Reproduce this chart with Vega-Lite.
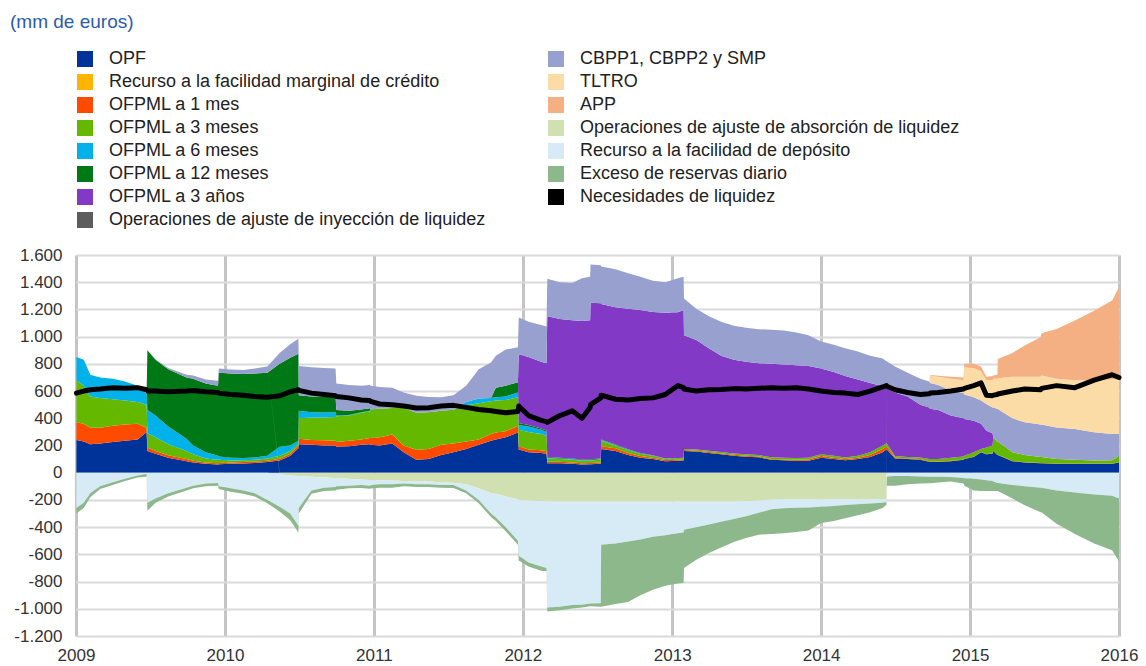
{
"$schema": "https://vega.github.io/schema/vega-lite/v6.json",
"width": 1043, "height": 381,
"autosize": {"type": "none"},
"padding": {"left": 76, "top": 255, "right": 27, "bottom": 30},
"background": "white",
"config": {
 "locale": {"number": {"decimal": ",", "thousands": ".", "grouping": [3], "currency": ["", " €"], "minus": "-"}},
 "view": {"stroke": null},
 "font": "Liberation Sans",
 "axisY": {"values": [-1200, -1000, -800, -600, -400, -200, 0, 200, 400, 600, 800, 1000, 1200, 1400, 1600], "format": ",d", "title": null, "grid": true, "gridColor": "#dadada", "gridWidth": 2, "ticks": false, "domain": false, "labelFontSize": 17, "labelColor": "#333333", "labelFont": "Liberation Sans", "labelPadding": 14, "labelOverlap": false}
},
"title": {"text": "(mm de euros)", "anchor": "start", "frame": "group", "fontSize": 19, "fontWeight": "normal", "color": "#2b5cab", "font": "Liberation Sans", "dx": -66, "offset": 0, "dy": -18},
"datasets": {
 "meta": [
  {"k":"opf","name":"OPF","o":1},
  {"k":"m1","name":"OFPML a 1 mes","o":3},
  {"k":"m3","name":"OFPML a 3 meses","o":4},
  {"k":"m6","name":"OFPML a 6 meses","o":5},
  {"k":"m12","name":"OFPML a 12 meses","o":6},
  {"k":"y3","name":"OFPML a 3 años","o":7},
  {"k":"cb","name":"CBPP1, CBPP2 y SMP","o":9},
  {"k":"tl","name":"TLTRO","o":10},
  {"k":"app","name":"APP","o":11},
  {"k":"fta","name":"Operaciones de ajuste de absorción de liquidez","o":12},
  {"k":"dep","name":"Recurso a la facilidad de depósito","o":13},
  {"k":"exc","name":"Exceso de reservas diario","o":14}
 ],
 "main": [
  {"d":"2009-01-02","opf":240,"m1":130,"m3":310,"m6":170,"m12":0,"y3":0,"cb":0,"tl":0,"app":0,"fta":0,"dep":-260,"exc":-40,"need":585},
  {"d":"2009-01-20","opf":230,"m1":130,"m3":280,"m6":190,"m12":0,"y3":0,"cb":0,"tl":0,"app":0,"fta":0,"dep":-220,"exc":-40,"need":600},
  {"d":"2009-02-05","opf":210,"m1":120,"m3":230,"m6":160,"m12":0,"y3":0,"cb":0,"tl":0,"app":0,"fta":0,"dep":-150,"exc":-30,"need":610},
  {"d":"2009-03-01","opf":215,"m1":115,"m3":220,"m6":150,"m12":0,"y3":0,"cb":0,"tl":0,"app":0,"fta":0,"dep":-100,"exc":-20,"need":615},
  {"d":"2009-04-01","opf":225,"m1":120,"m3":195,"m6":150,"m12":0,"y3":0,"cb":0,"tl":0,"app":0,"fta":0,"dep":-70,"exc":-20,"need":625},
  {"d":"2009-05-01","opf":235,"m1":120,"m3":175,"m6":140,"m12":0,"y3":0,"cb":0,"tl":0,"app":0,"fta":0,"dep":-45,"exc":-15,"need":620},
  {"d":"2009-06-01","opf":245,"m1":115,"m3":160,"m6":120,"m12":0,"y3":0,"cb":0,"tl":0,"app":0,"fta":0,"dep":-20,"exc":-15,"need":625},
  {"d":"2009-06-23","opf":300,"m1":30,"m3":170,"m6":80,"m12":0,"y3":0,"cb":0,"tl":0,"app":0,"fta":0,"dep":-10,"exc":-20,"need":610},
  {"d":"2009-06-25","opf":160,"m1":25,"m3":105,"m6":170,"m12":440,"y3":0,"cb":0,"tl":0,"app":0,"fta":0,"dep":-220,"exc":-60,"need":600},
  {"d":"2009-07-15","opf":140,"m1":20,"m3":100,"m6":160,"m12":410,"y3":0,"cb":2,"tl":0,"app":0,"fta":0,"dep":-190,"exc":-30,"need":600},
  {"d":"2009-08-15","opf":110,"m1":18,"m3":82,"m6":130,"m12":420,"y3":0,"cb":10,"tl":0,"app":0,"fta":0,"dep":-150,"exc":-25,"need":595},
  {"d":"2009-09-29","opf":85,"m1":15,"m3":60,"m6":90,"m12":450,"y3":0,"cb":20,"tl":0,"app":0,"fta":0,"dep":-110,"exc":-20,"need":600},
  {"d":"2009-10-15","opf":75,"m1":13,"m3":47,"m6":65,"m12":490,"y3":0,"cb":25,"tl":0,"app":0,"fta":0,"dep":-95,"exc":-20,"need":605},
  {"d":"2009-11-15","opf":65,"m1":10,"m3":30,"m6":45,"m12":505,"y3":0,"cb":30,"tl":0,"app":0,"fta":0,"dep":-80,"exc":-20,"need":595},
  {"d":"2009-12-15","opf":60,"m1":10,"m3":25,"m6":30,"m12":515,"y3":0,"cb":35,"tl":0,"app":0,"fta":0,"dep":-75,"exc":-20,"need":590},
  {"d":"2009-12-17","opf":62,"m1":10,"m3":23,"m6":25,"m12":615,"y3":0,"cb":30,"tl":0,"app":0,"fta":0,"dep":-100,"exc":-20,"need":585},
  {"d":"2010-01-15","opf":65,"m1":10,"m3":15,"m6":20,"m12":620,"y3":0,"cb":28,"tl":0,"app":0,"fta":0,"dep":-115,"exc":-25,"need":575},
  {"d":"2010-02-15","opf":68,"m1":10,"m3":14,"m6":16,"m12":617,"y3":0,"cb":30,"tl":0,"app":0,"fta":0,"dep":-130,"exc":-25,"need":570},
  {"d":"2010-03-15","opf":72,"m1":10,"m3":14,"m6":16,"m12":618,"y3":0,"cb":35,"tl":0,"app":0,"fta":0,"dep":-150,"exc":-25,"need":560},
  {"d":"2010-04-15","opf":78,"m1":10,"m3":17,"m6":20,"m12":610,"y3":0,"cb":45,"tl":0,"app":0,"fta":0,"dep":-200,"exc":-25,"need":555},
  {"d":"2010-05-15","opf":90,"m1":12,"m3":23,"m6":65,"m12":610,"y3":0,"cb":80,"tl":0,"app":0,"fta":-10,"dep":-240,"exc":-35,"need":565},
  {"d":"2010-06-10","opf":125,"m1":15,"m3":20,"m6":40,"m12":645,"y3":0,"cb":100,"tl":0,"app":0,"fta":-20,"dep":-280,"exc":-50,"need":595},
  {"d":"2010-06-30","opf":180,"m1":20,"m3":15,"m6":20,"m12":640,"y3":0,"cb":110,"tl":0,"app":0,"fta":-25,"dep":-365,"exc":-50,"need":610},
  {"d":"2010-07-01","opf":210,"m1":40,"m3":150,"m6":55,"m12":115,"y3":0,"cb":215,"tl":0,"app":0,"fta":-25,"dep":-235,"exc":-40,"need":605},
  {"d":"2010-08-01","opf":205,"m1":35,"m3":165,"m6":40,"m12":115,"y3":0,"cb":215,"tl":0,"app":0,"fta":-30,"dep":-100,"exc":-25,"need":585},
  {"d":"2010-09-01","opf":200,"m1":38,"m3":167,"m6":37,"m12":118,"y3":0,"cb":210,"tl":0,"app":0,"fta":-35,"dep":-75,"exc":-25,"need":575},
  {"d":"2010-09-29","opf":200,"m1":35,"m3":175,"m6":35,"m12":120,"y3":0,"cb":200,"tl":0,"app":0,"fta":-38,"dep":-67,"exc":-25,"need":565},
  {"d":"2010-10-01","opf":190,"m1":35,"m3":190,"m6":5,"m12":40,"y3":0,"cb":195,"tl":0,"app":0,"fta":-40,"dep":-60,"exc":-25,"need":560},
  {"d":"2010-11-01","opf":195,"m1":40,"m3":185,"m6":5,"m12":30,"y3":0,"cb":190,"tl":0,"app":0,"fta":-45,"dep":-50,"exc":-20,"need":550},
  {"d":"2010-12-01","opf":205,"m1":40,"m3":195,"m6":5,"m12":20,"y3":0,"cb":175,"tl":0,"app":0,"fta":-50,"dep":-40,"exc":-22,"need":535},
  {"d":"2010-12-22","opf":210,"m1":45,"m3":195,"m6":5,"m12":18,"y3":0,"cb":172,"tl":0,"app":0,"fta":-53,"dep":-42,"exc":-23,"need":530},
  {"d":"2010-12-24","opf":205,"m1":50,"m3":210,"m6":3,"m12":0,"y3":0,"cb":172,"tl":0,"app":0,"fta":-53,"dep":-40,"exc":-23,"need":525},
  {"d":"2011-01-15","opf":200,"m1":60,"m3":210,"m6":0,"m12":0,"y3":0,"cb":160,"tl":0,"app":0,"fta":-55,"dep":-30,"exc":-25,"need":505},
  {"d":"2011-02-15","opf":215,"m1":65,"m3":195,"m6":0,"m12":0,"y3":0,"cb":150,"tl":0,"app":0,"fta":-58,"dep":-27,"exc":-25,"need":500},
  {"d":"2011-03-15","opf":150,"m1":50,"m3":275,"m6":0,"m12":0,"y3":0,"cb":115,"tl":0,"app":0,"fta":-60,"dep":-20,"exc":-20,"need":490},
  {"d":"2011-04-15","opf":95,"m1":73,"m3":272,"m6":0,"m12":0,"y3":0,"cb":126,"tl":0,"app":0,"fta":-62,"dep":-23,"exc":-20,"need":475},
  {"d":"2011-05-15","opf":100,"m1":75,"m3":270,"m6":0,"m12":0,"y3":0,"cb":111,"tl":0,"app":0,"fta":-65,"dep":-20,"exc":-20,"need":478},
  {"d":"2011-06-15","opf":130,"m1":75,"m3":250,"m6":0,"m12":0,"y3":0,"cb":99,"tl":0,"app":0,"fta":-70,"dep":-20,"exc":-20,"need":490},
  {"d":"2011-07-15","opf":150,"m1":65,"m3":247,"m6":0,"m12":0,"y3":0,"cb":108,"tl":0,"app":0,"fta":-73,"dep":-17,"exc":-22,"need":495},
  {"d":"2011-08-15","opf":175,"m1":55,"m3":265,"m6":25,"m12":0,"y3":0,"cb":120,"tl":0,"app":0,"fta":-85,"dep":-45,"exc":-20,"need":480},
  {"d":"2011-09-15","opf":205,"m1":40,"m3":265,"m6":35,"m12":0,"y3":0,"cb":215,"tl":0,"app":0,"fta":-115,"dep":-85,"exc":-25,"need":465},
  {"d":"2011-10-15","opf":235,"m1":50,"m3":240,"m6":25,"m12":0,"y3":0,"cb":260,"tl":0,"app":0,"fta":-150,"dep":-150,"exc":-25,"need":455},
  {"d":"2011-10-27","opf":245,"m1":50,"m3":235,"m6":25,"m12":70,"y3":0,"cb":235,"tl":0,"app":0,"fta":-155,"dep":-175,"exc":-25,"need":450},
  {"d":"2011-11-20","opf":260,"m1":45,"m3":230,"m6":25,"m12":80,"y3":0,"cb":265,"tl":0,"app":0,"fta":-175,"dep":-225,"exc":-30,"need":440},
  {"d":"2011-12-20","opf":295,"m1":50,"m3":210,"m6":35,"m12":75,"y3":0,"cb":257,"tl":0,"app":0,"fta":-195,"dep":-305,"exc":-30,"need":450},
  {"d":"2011-12-22","opf":170,"m1":25,"m3":120,"m6":35,"m12":15,"y3":505,"cb":270,"tl":0,"app":0,"fta":-200,"dep":-410,"exc":-35,"need":490},
  {"d":"2012-01-15","opf":150,"m1":20,"m3":130,"m6":40,"m12":10,"y3":500,"cb":260,"tl":0,"app":0,"fta":-205,"dep":-455,"exc":-30,"need":420},
  {"d":"2012-02-15","opf":145,"m1":20,"m3":120,"m6":30,"m12":10,"y3":490,"cb":270,"tl":0,"app":0,"fta":-210,"dep":-480,"exc":-30,"need":385},
  {"d":"2012-02-28","opf":140,"m1":20,"m3":110,"m6":30,"m12":10,"y3":495,"cb":270,"tl":0,"app":0,"fta":-210,"dep":-490,"exc":-25,"need":375},
  {"d":"2012-03-01","opf":70,"m1":10,"m3":25,"m6":5,"m12":5,"y3":1035,"cb":275,"tl":0,"app":0,"fta":-212,"dep":-778,"exc":-30,"need":370},
  {"d":"2012-04-01","opf":70,"m1":10,"m3":20,"m6":5,"m12":5,"y3":1020,"cb":270,"tl":0,"app":0,"fta":-212,"dep":-773,"exc":-25,"need":420},
  {"d":"2012-05-01","opf":65,"m1":10,"m3":20,"m6":5,"m12":5,"y3":1015,"cb":275,"tl":0,"app":0,"fta":-212,"dep":-760,"exc":-25,"need":455},
  {"d":"2012-05-25","opf":60,"m1":10,"m3":18,"m6":4,"m12":5,"y3":1018,"cb":315,"tl":0,"app":0,"fta":-212,"dep":-758,"exc":-20,"need":400},
  {"d":"2012-06-14","opf":62,"m1":10,"m3":18,"m6":4,"m12":5,"y3":1021,"cb":320,"tl":0,"app":0,"fta":-212,"dep":-750,"exc":-20,"need":480},
  {"d":"2012-06-15","opf":62,"m1":10,"m3":18,"m6":4,"m12":5,"y3":1151,"cb":280,"tl":0,"app":0,"fta":-212,"dep":-750,"exc":-20,"need":500},
  {"d":"2012-07-10","opf":65,"m1":10,"m3":20,"m6":4,"m12":5,"y3":1141,"cb":280,"tl":0,"app":0,"fta":-212,"dep":-748,"exc":-25,"need":550},
  {"d":"2012-07-11","opf":175,"m1":20,"m3":40,"m6":5,"m12":5,"y3":995,"cb":275,"tl":0,"app":0,"fta":-212,"dep":-318,"exc":-455,"need":570},
  {"d":"2012-08-15","opf":160,"m1":20,"m3":20,"m6":4,"m12":4,"y3":1008,"cb":279,"tl":0,"app":0,"fta":-212,"dep":-308,"exc":-445,"need":540},
  {"d":"2012-09-15","opf":130,"m1":15,"m3":20,"m6":3,"m12":4,"y3":1033,"cb":260,"tl":0,"app":0,"fta":-212,"dep":-293,"exc":-445,"need":535},
  {"d":"2012-10-15","opf":110,"m1":12,"m3":18,"m6":2,"m12":3,"y3":1050,"cb":245,"tl":0,"app":0,"fta":-212,"dep":-278,"exc":-410,"need":545},
  {"d":"2012-11-15","opf":100,"m1":10,"m3":15,"m6":2,"m12":1,"y3":1054,"cb":228,"tl":0,"app":0,"fta":-212,"dep":-258,"exc":-390,"need":550},
  {"d":"2012-12-15","opf":85,"m1":8,"m3":9,"m6":2,"m12":0,"y3":1071,"cb":225,"tl":0,"app":0,"fta":-212,"dep":-248,"exc":-370,"need":575},
  {"d":"2013-01-15","opf":88,"m1":8,"m3":12,"m6":0,"m12":0,"y3":1072,"cb":250,"tl":0,"app":0,"fta":-212,"dep":-233,"exc":-370,"need":640},
  {"d":"2013-01-29","opf":90,"m1":8,"m3":12,"m6":0,"m12":0,"y3":1085,"cb":245,"tl":0,"app":0,"fta":-212,"dep":-228,"exc":-370,"need":625},
  {"d":"2013-01-30","opf":160,"m1":7,"m3":8,"m6":0,"m12":0,"y3":835,"cb":270,"tl":0,"app":0,"fta":-212,"dep":-208,"exc":-280,"need":615},
  {"d":"2013-03-01","opf":155,"m1":7,"m3":8,"m6":0,"m12":0,"y3":805,"cb":230,"tl":0,"app":0,"fta":-212,"dep":-188,"exc":-240,"need":600},
  {"d":"2013-04-01","opf":145,"m1":7,"m3":10,"m6":0,"m12":0,"y3":753,"cb":235,"tl":0,"app":0,"fta":-212,"dep":-168,"exc":-210,"need":610},
  {"d":"2013-05-01","opf":135,"m1":7,"m3":10,"m6":0,"m12":0,"y3":708,"cb":250,"tl":0,"app":0,"fta":-212,"dep":-148,"exc":-190,"need":612},
  {"d":"2013-06-01","opf":125,"m1":7,"m3":10,"m6":0,"m12":0,"y3":688,"cb":250,"tl":0,"app":0,"fta":-212,"dep":-128,"exc":-170,"need":618},
  {"d":"2013-07-01","opf":118,"m1":6,"m3":11,"m6":0,"m12":0,"y3":680,"cb":250,"tl":0,"app":0,"fta":-210,"dep":-110,"exc":-160,"need":615},
  {"d":"2013-08-01","opf":113,"m1":6,"m3":11,"m6":0,"m12":0,"y3":675,"cb":250,"tl":0,"app":0,"fta":-205,"dep":-90,"exc":-160,"need":620},
  {"d":"2013-09-01","opf":95,"m1":6,"m3":12,"m6":0,"m12":0,"y3":687,"cb":250,"tl":0,"app":0,"fta":-198,"dep":-70,"exc":-182,"need":625},
  {"d":"2013-10-01","opf":92,"m1":6,"m3":12,"m6":0,"m12":0,"y3":685,"cb":250,"tl":0,"app":0,"fta":-195,"dep":-67,"exc":-183,"need":620},
  {"d":"2013-11-01","opf":88,"m1":8,"m3":12,"m6":0,"m12":0,"y3":682,"cb":240,"tl":0,"app":0,"fta":-195,"dep":-63,"exc":-177,"need":625},
  {"d":"2013-12-01","opf":88,"m1":10,"m3":12,"m6":0,"m12":0,"y3":675,"cb":225,"tl":0,"app":0,"fta":-195,"dep":-60,"exc":-170,"need":615},
  {"d":"2014-01-01","opf":110,"m1":12,"m3":13,"m6":0,"m12":0,"y3":630,"cb":200,"tl":0,"app":0,"fta":-195,"dep":-55,"exc":-120,"need":600},
  {"d":"2014-02-01","opf":100,"m1":10,"m3":15,"m6":0,"m12":0,"y3":615,"cb":200,"tl":0,"app":0,"fta":-195,"dep":-50,"exc":-110,"need":590},
  {"d":"2014-03-01","opf":92,"m1":8,"m3":12,"m6":0,"m12":0,"y3":598,"cb":205,"tl":0,"app":0,"fta":-195,"dep":-43,"exc":-97,"need":585},
  {"d":"2014-04-01","opf":100,"m1":10,"m3":15,"m6":0,"m12":0,"y3":560,"cb":205,"tl":0,"app":0,"fta":-195,"dep":-37,"exc":-80,"need":575},
  {"d":"2014-05-01","opf":115,"m1":15,"m3":20,"m6":0,"m12":0,"y3":510,"cb":200,"tl":0,"app":0,"fta":-195,"dep":-31,"exc":-64,"need":600},
  {"d":"2014-06-01","opf":150,"m1":25,"m3":25,"m6":0,"m12":0,"y3":435,"cb":205,"tl":0,"app":0,"fta":-195,"dep":-25,"exc":-40,"need":630},
  {"d":"2014-06-10","opf":170,"m1":20,"m3":25,"m6":0,"m12":0,"y3":405,"cb":200,"tl":0,"app":0,"fta":-195,"dep":-20,"exc":-20,"need":640},
  {"d":"2014-06-11","opf":170,"m1":20,"m3":25,"m6":0,"m12":0,"y3":405,"cb":200,"tl":0,"app":0,"fta":0,"dep":-28,"exc":-67,"need":635},
  {"d":"2014-07-01","opf":105,"m1":7,"m3":10,"m6":0,"m12":0,"y3":468,"cb":190,"tl":0,"app":0,"fta":0,"dep":-25,"exc":-70,"need":610},
  {"d":"2014-08-01","opf":100,"m1":5,"m3":10,"m6":0,"m12":0,"y3":445,"cb":175,"tl":0,"app":0,"fta":0,"dep":-25,"exc":-60,"need":590},
  {"d":"2014-09-01","opf":95,"m1":5,"m3":12,"m6":0,"m12":0,"y3":388,"cb":190,"tl":0,"app":0,"fta":0,"dep":-28,"exc":-52,"need":575},
  {"d":"2014-09-23","opf":80,"m1":5,"m3":15,"m6":0,"m12":0,"y3":380,"cb":190,"tl":0,"app":0,"fta":0,"dep":-30,"exc":-48,"need":580},
  {"d":"2014-09-25","opf":80,"m1":5,"m3":15,"m6":0,"m12":0,"y3":370,"cb":190,"tl":55,"app":3,"fta":0,"dep":-30,"exc":-48,"need":585},
  {"d":"2014-10-15","opf":78,"m1":4,"m3":18,"m6":0,"m12":0,"y3":360,"cb":185,"tl":60,"app":7,"fta":0,"dep":-30,"exc":-42,"need":590},
  {"d":"2014-11-15","opf":85,"m1":3,"m3":22,"m6":0,"m12":0,"y3":310,"cb":185,"tl":85,"app":15,"fta":0,"dep":-32,"exc":-33,"need":600},
  {"d":"2014-12-16","opf":95,"m1":3,"m3":22,"m6":0,"m12":0,"y3":280,"cb":185,"tl":95,"app":20,"fta":0,"dep":-38,"exc":-42,"need":615},
  {"d":"2014-12-18","opf":100,"m1":3,"m3":22,"m6":0,"m12":0,"y3":270,"cb":180,"tl":200,"app":25,"fta":0,"dep":-40,"exc":-55,"need":620},
  {"d":"2015-01-10","opf":115,"m1":3,"m3":32,"m6":0,"m12":0,"y3":232,"cb":172,"tl":216,"app":30,"fta":0,"dep":-45,"exc":-85,"need":640},
  {"d":"2015-01-28","opf":150,"m1":2,"m3":23,"m6":0,"m12":0,"y3":185,"cb":170,"tl":215,"app":35,"fta":0,"dep":-50,"exc":-85,"need":660},
  {"d":"2015-02-10","opf":135,"m1":2,"m3":49,"m6":0,"m12":0,"y3":123,"cb":196,"tl":175,"app":25,"fta":0,"dep":-55,"exc":-80,"need":570},
  {"d":"2015-02-25","opf":140,"m1":2,"m3":58,"m6":0,"m12":0,"y3":90,"cb":190,"tl":200,"app":30,"fta":0,"dep":-60,"exc":-75,"need":566},
  {"d":"2015-02-27","opf":160,"m1":2,"m3":98,"m6":0,"m12":0,"y3":0,"cb":220,"tl":210,"app":25,"fta":0,"dep":-65,"exc":-70,"need":570},
  {"d":"2015-03-09","opf":130,"m1":2,"m3":98,"m6":0,"m12":0,"y3":0,"cb":240,"tl":220,"app":30,"fta":0,"dep":-75,"exc":-60,"need":575},
  {"d":"2015-03-10","opf":130,"m1":2,"m3":98,"m6":0,"m12":0,"y3":0,"cb":238,"tl":227,"app":141,"fta":0,"dep":-75,"exc":-60,"need":578},
  {"d":"2015-04-15","opf":85,"m1":2,"m3":63,"m6":0,"m12":0,"y3":0,"cb":250,"tl":305,"app":175,"fta":0,"dep":-90,"exc":-100,"need":600},
  {"d":"2015-05-15","opf":75,"m1":2,"m3":53,"m6":0,"m12":0,"y3":0,"cb":240,"tl":335,"app":230,"fta":0,"dep":-100,"exc":-140,"need":615},
  {"d":"2015-06-23","opf":70,"m1":2,"m3":43,"m6":0,"m12":0,"y3":0,"cb":240,"tl":350,"app":290,"fta":0,"dep":-110,"exc":-180,"need":610},
  {"d":"2015-06-25","opf":70,"m1":2,"m3":43,"m6":0,"m12":0,"y3":0,"cb":240,"tl":360,"app":310,"fta":0,"dep":-110,"exc":-180,"need":620},
  {"d":"2015-08-01","opf":65,"m1":2,"m3":33,"m6":0,"m12":0,"y3":0,"cb":233,"tl":357,"app":366,"fta":0,"dep":-130,"exc":-245,"need":640},
  {"d":"2015-09-15","opf":65,"m1":2,"m3":28,"m6":0,"m12":0,"y3":0,"cb":226,"tl":359,"app":438,"fta":0,"dep":-145,"exc":-305,"need":625},
  {"d":"2015-11-01","opf":65,"m1":2,"m3":23,"m6":0,"m12":0,"y3":0,"cb":207,"tl":383,"app":511,"fta":0,"dep":-160,"exc":-360,"need":680},
  {"d":"2015-12-15","opf":65,"m1":2,"m3":25,"m6":0,"m12":0,"y3":0,"cb":193,"tl":400,"app":580,"fta":0,"dep":-170,"exc":-400,"need":720},
  {"d":"2016-01-01","opf":75,"m1":2,"m3":48,"m6":0,"m12":0,"y3":0,"cb":159,"tl":406,"app":673,"fta":0,"dep":-190,"exc":-460,"need":700}
 ]
},
"data": {"name": "main"},
"encoding": {
 "x": {"field": "d", "type": "temporal",
  "scale": {"type": "utc", "domain": [{"year": 2009, "month": 1, "date": 1, "utc": true}, {"year": 2016, "month": 1, "date": 1, "utc": true}]},
  "axis": {"values": [{"year": 2009, "month": 1, "date": 1, "utc": true}, {"year": 2010, "month": 1, "date": 1, "utc": true}, {"year": 2011, "month": 1, "date": 1, "utc": true}, {"year": 2012, "month": 1, "date": 1, "utc": true}, {"year": 2013, "month": 1, "date": 1, "utc": true}, {"year": 2014, "month": 1, "date": 1, "utc": true}, {"year": 2015, "month": 1, "date": 1, "utc": true}, {"year": 2016, "month": 1, "date": 1, "utc": true}],
   "format": "%Y", "title": null, "grid": true, "gridColor": "#c4c4c4", "gridWidth": 3, "ticks": false, "domain": false,
   "labelFontSize": 17, "labelColor": "#333333", "labelFont": "Liberation Sans", "labelPadding": 11, "labelFlush": false, "labelOverlap": false}
 }
},
"layer": [
 {
  "transform": [
   {"fold": ["opf", "m1", "m3", "m6", "m12", "y3", "cb", "tl", "app", "fta", "dep", "exc"], "as": ["k", "v"]},
   {"lookup": "k", "from": {"data": {"name": "meta"}, "key": "k", "fields": ["name", "o"]}}
  ],
  "mark": {"type": "area", "interpolate": "linear"},
  "encoding": {
   "y": {"field": "v", "type": "quantitative", "stack": "zero",
    "scale": {"domain": [-1200, 1600], "nice": false, "zero": false},
    "axis": {"values": [-1200, -1000, -800, -600, -400, -200, 0, 200, 400, 600, 800, 1000, 1200, 1400, 1600], "labelOverlap": false}},
   "color": {"field": "name", "type": "nominal",
    "scale": {
     "domain": ["OPF", "Recurso a la facilidad marginal de crédito", "OFPML a 1 mes", "OFPML a 3 meses", "OFPML a 6 meses", "OFPML a 12 meses", "OFPML a 3 años", "Operaciones de ajuste de inyección de liquidez", "CBPP1, CBPP2 y SMP", "TLTRO", "APP", "Operaciones de ajuste de absorción de liquidez", "Recurso a la facilidad de depósito", "Exceso de reservas diario", "Necesidades de liquidez"],
     "range": ["#003399", "#ffb400", "#ff4b00", "#65b800", "#00b1ea", "#007816", "#8139c6", "#5c5c5c", "#98a0cf", "#fcdca6", "#f4b083", "#d1e0b0", "#d6ebf6", "#8cb88c", "#000000"]},
    "legend": {"orient": "none", "legendX": 0, "legendY": -205, "columns": 2, "columnPadding": 61, "rowPadding": 5, "symbolType": "square", "symbolSize": 256, "symbolStrokeWidth": 0, "symbolOpacity": 1, "labelFontSize": 18, "labelFont": "Liberation Sans", "labelColor": "#222222", "labelOffset": 15, "labelLimit": 600, "title": null, "padding": 0}},
   "order": {"field": "o", "type": "quantitative"}
  }
 },
 {
  "mark": {"type": "line", "color": "#000000", "strokeWidth": 5, "strokeJoin": "round", "strokeCap": "round"},
  "encoding": {"y": {"field": "need", "type": "quantitative", "axis": {"values": [-1200, -1000, -800, -600, -400, -200, 0, 200, 400, 600, 800, 1000, 1200, 1400, 1600], "labelOverlap": false}}}
 }
]
}
